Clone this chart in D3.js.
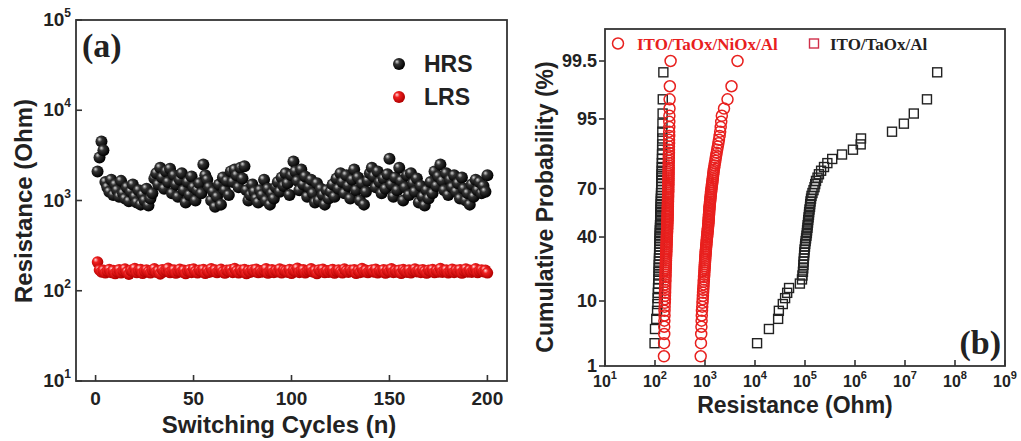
<!DOCTYPE html>
<html lang="en">
<head>
<meta charset="UTF-8">
<title>Resistance switching and cumulative probability</title>
<script src="https://d3js.org/d3.v7.min.js"></script>
<style>
  body { margin: 0; background: #fff; }
  svg text { font-family: "Liberation Sans", Arial, sans-serif; font-weight: bold; fill: #222; }
  svg text.serif { font-family: "Liberation Serif", "Times New Roman", serif; }
</style>
</head>
<body>
<svg width="1021" height="441"></svg>
<script>
// ---- panel (a): resistance vs switching cycle (values in Ohm) ----
const cycles = d3.range(1, 201);
const hrsA = [
  2100,3000,4500,3600,1600,1400,1250,1700,1150,1500,
  1300,1100,1650,1200,1050,1400,980,1250,1500,1100,
  950,1300,900,1150,1000,1350,880,1050,1200,1750,
  2000,1500,2300,1800,1350,2100,1600,2250,1200,1900,
  1500,1100,1700,2000,1300,950,1600,1150,1850,1400,
  1000,1300,1550,1200,2500,1900,1700,1400,1000,1250,
  850,1100,1500,900,1800,1300,1650,1150,2100,1600,
  2200,1900,1400,2300,1750,2400,1300,1000,1150,1500,
  1250,1050,950,1300,1150,1700,1000,1350,900,1200,
  1050,1400,1600,1250,1800,1450,2000,1550,1150,1900,
  2700,2100,1650,1300,2200,1500,1850,1100,1400,1700,
  1200,950,1550,1000,1350,1150,900,1300,1050,1250,
  1500,1100,1750,1350,2000,1600,1200,1900,1450,1050,
  1700,2200,1300,1800,1000,1550,900,1250,1650,2000,
  2300,1850,1400,2100,1600,1200,1750,1350,1950,2900,
  1500,1100,1800,1300,2300,1650,1000,1400,1900,1150,
  2000,1550,1250,1750,950,1450,1100,880,1300,1050,
  1600,1200,2100,1450,1850,2500,1650,1300,2000,1150,
  1700,1400,1900,1250,1550,1050,1800,1350,1000,1200,
  900,1500,1100,1700,1300,1600,1200,1450,1250,1900
];
const lrsA = [
  208,170,162,168,158,165,172,160,167,155,
  163,171,158,166,174,161,153,168,164,176,
  159,167,172,156,165,170,162,158,169,175,
  161,166,154,171,163,168,177,159,164,170,
  157,165,173,162,168,155,166,171,160,174,
  163,158,169,165,172,156,167,161,175,164,
  170,159,166,173,162,157,168,164,171,160,
  176,165,158,169,163,172,155,167,161,170,
  164,173,159,166,162,168,175,157,165,171,
  160,167,163,174,158,169,165,161,172,156,
  168,164,177,160,166,171,158,163,169,175,
  162,167,155,170,164,173,159,166,161,168,
  172,157,165,170,163,158,174,166,161,169,
  164,171,156,167,160,176,163,168,159,165,
  170,162,173,158,166,164,171,157,168,163,
  175,160,167,162,169,156,172,165,161,170,
  158,166,174,163,168,160,171,164,157,169,
  165,172,159,167,162,176,161,166,170,158,
  164,173,160,168,163,171,157,166,174,162,
  169,161,167,175,159,165,170,163,168,158
];
const xTicksA = [0, 50, 100, 150, 200];
const yExpA = [1, 2, 3, 4, 5];

// ---- panel (b): sorted resistances for cumulative plots (Ohm) ----
const niOxLRS = [
  148,151,152,153,153,154,155,155,156,157,
  158,158,159,159,160,160,161,161,162,162,
  163,163,164,164,165,165,166,166,167,167,
  168,168,169,169,170,170,171,171,172,172,
  173,173,174,174,175,175,176,176,177,177,
  178,178,178,179,179,179,180,180,180,181,
  181,181,182,182,182,183,183,183,184,184,
  184,185,185,185,186,186,186,187,187,187,
  188,188,188,189,189,189,190,190,190,191,
  191,192,192,193,193,194,195,196,198,205
];
const niOxHRS = [
  790,820,830,840,848,855,862,870,880,890,
  900,908,915,922,930,937,944,950,957,964,
  970,976,982,988,994,1000,1006,1012,1018,1023,
  1030,1037,1044,1051,1058,1065,1072,1080,1088,1096,
  1104,1112,1120,1128,1136,1144,1152,1160,1168,1175,
  1180,1186,1192,1198,1204,1210,1216,1222,1228,1235,
  1245,1255,1265,1275,1285,1295,1305,1316,1328,1340,
  1355,1370,1385,1400,1415,1430,1445,1462,1480,1500,
  1525,1550,1580,1610,1640,1670,1710,1750,1800,1850,
  1900,1960,2010,2060,2110,2170,2400,2820,3390,4470
];
const taOxLRS = [
  100,98,100,106,110,112,113,114,115,116,
  117,118,118,119,119,120,120,121,121,122,
  122,123,123,124,124,125,125,126,126,127,
  127,128,128,129,129,130,130,131,131,132,
  132,133,133,134,134,135,135,136,137,137,
  138,138,139,139,140,140,141,142,143,147
];
const taOxHRS = [
  1.0e4,1.1e4,1.9e4,2.9e4,3.0e4,3.6e4,4.0e4,4.4e4,4.8e4,7.9e4,
  8.7e4,8.9e4,9.1e4,9.2e4,9.3e4,9.4e4,9.5e4,9.6e4,9.7e4,9.8e4,
  1.0e5,1.01e5,1.03e5,1.05e5,1.07e5,1.09e5,1.10e5,1.12e5,1.13e5,1.15e5,
  1.16e5,1.18e5,1.20e5,1.21e5,1.23e5,1.26e5,1.27e5,1.29e5,1.32e5,1.35e5,
  1.41e5,1.48e5,1.55e5,1.60e5,1.66e5,1.78e5,1.90e5,2.1e5,2.4e5,2.8e5,
  3.5e5,5.5e5,9.1e5,1.3e6,1.32e6,5.5e6,9.5e6,1.5e7,2.75e7,4.4e7
];
const yTicksB = [1, 10, 40, 70, 95, 99.5];
const xExpB = [1, 2, 3, 4, 5, 6, 7, 8, 9];
const legendB = ["ITO/TaOx/NiOx/Al", "ITO/TaOx/Al"];

// inverse normal CDF (Acklam), used for the probability axis
function probit(p) {
  const a = [-39.69683028665376, 220.9460984245205, -275.9285104469687, 138.3577518672690, -30.66479806614716, 2.506628277459239];
  const b = [-54.47609879822406, 161.5858368580409, -155.6989798598866, 66.80131188771972, -13.28068155288572];
  const c = [-0.007784894002430293, -0.3223964580411365, -2.400758277161838, -2.549732539343734, 4.374664141464968, 2.938163982698783];
  const d = [0.007784695709041462, 0.3224671290700398, 2.445134137142996, 3.754408661907416];
  const pl = 0.02425;
  let q, r;
  if (p < pl) {
    q = Math.sqrt(-2 * Math.log(p));
    return (((((c[0]*q+c[1])*q+c[2])*q+c[3])*q+c[4])*q+c[5]) / ((((d[0]*q+d[1])*q+d[2])*q+d[3])*q+1);
  }
  if (p <= 1 - pl) {
    q = p - 0.5; r = q * q;
    return (((((a[0]*r+a[1])*r+a[2])*r+a[3])*r+a[4])*r+a[5])*q / (((((b[0]*r+b[1])*r+b[2])*r+b[3])*r+b[4])*r+1);
  }
  q = Math.sqrt(-2 * Math.log(1 - p));
  return -(((((c[0]*q+c[1])*q+c[2])*q+c[3])*q+c[4])*q+c[5]) / ((((d[0]*q+d[1])*q+d[2])*q+d[3])*q+1);
}

const svg = d3.select("svg");
const frameColor = "#333";
const red = "#e8201e";

// sphere gradients
const defs = svg.append("defs");
function sphere(id, hi, mid, dark) {
  const g = defs.append("radialGradient").attr("id", id)
    .attr("cx", "40%").attr("cy", "40%").attr("r", "60%").attr("fx", "32%").attr("fy", "30%");
  g.append("stop").attr("offset", "0%").attr("stop-color", hi);
  g.append("stop").attr("offset", "35%").attr("stop-color", mid);
  g.append("stop").attr("offset", "100%").attr("stop-color", dark);
}
sphere("ballBlack", "#d8d8d8", "#333", "#000");
sphere("ballRed", "#ffd8d8", "#f02020", "#b00000");

function sup(sel, base, exp, dy, size) {
  sel.text(base);
  sel.append("tspan").attr("dy", dy).attr("font-size", size).text(exp);
}

// ================= panel (a) =================
const A = { left: 76, right: 507, top: 20, bottom: 381 };
const xA = d3.scaleLinear().domain([-10, 210]).range([A.left, A.right]);
const yA = d3.scaleLog().domain([10, 1e5]).range([A.bottom, A.top]);

const gA = svg.append("g");
gA.append("rect").attr("x", A.left).attr("y", A.top)
  .attr("width", A.right - A.left).attr("height", A.bottom - A.top)
  .attr("fill", "none").attr("stroke", frameColor).attr("stroke-width", 1.8);

gA.selectAll(".xt").data(xTicksA).enter().append("line")
  .attr("x1", d => xA(d)).attr("x2", d => xA(d))
  .attr("y1", A.bottom).attr("y2", A.bottom - 6)
  .attr("stroke", frameColor).attr("stroke-width", 1.6);
gA.selectAll(".xl").data(xTicksA).enter().append("text")
  .attr("x", d => xA(d)).attr("y", A.bottom + 24)
  .attr("text-anchor", "middle").attr("font-size", 19).text(d => d);

gA.selectAll(".yt").data(yExpA).enter().append("line")
  .attr("x1", A.left).attr("x2", A.left + 6)
  .attr("y1", d => yA(Math.pow(10, d))).attr("y2", d => yA(Math.pow(10, d)))
  .attr("stroke", frameColor).attr("stroke-width", 1.6);
gA.selectAll(".yl").data(yExpA).enter().append("text")
  .attr("x", A.left - 5).attr("y", d => yA(Math.pow(10, d)) + 6)
  .attr("text-anchor", "end").attr("font-size", 19)
  .each(function(d) { sup(d3.select(this), "10", d, -9, 12); });

gA.append("text").attr("x", 279).attr("y", 433)
  .attr("text-anchor", "middle").attr("font-size", 24).text("Switching Cycles (n)");
gA.append("text").attr("transform", "translate(32,201) rotate(-90)")
  .attr("text-anchor", "middle").attr("font-size", 24).text("Resistance (Ohm)");
gA.append("text").attr("class", "serif").attr("x", 82).attr("y", 57)
  .attr("font-size", 34).attr("fill", "#222").text("(a)");

gA.selectAll(".lrs").data(cycles).enter().append("circle")
  .attr("cx", d => xA(d)).attr("cy", (d, i) => yA(lrsA[i]))
  .attr("r", 5.8).attr("fill", "url(#ballRed)");
gA.selectAll(".hrs").data(cycles).enter().append("circle")
  .attr("cx", d => xA(d)).attr("cy", (d, i) => yA(hrsA[i]))
  .attr("r", 6).attr("fill", "url(#ballBlack)");

// legend (a)
[["HRS", "url(#ballBlack)", 64], ["LRS", "url(#ballRed)", 97]].forEach(([lab, fill, y]) => {
  gA.append("circle").attr("cx", 399).attr("cy", y).attr("r", 6).attr("fill", fill);
  gA.append("text").attr("x", 424).attr("y", y + 8).attr("font-size", 23).text(lab);
});

// ================= panel (b) =================
const B = { left: 605, right: 1005, top: 29, bottom: 366 };
const xB = d3.scaleLog().domain([10, 1e9]).range([B.left, B.right]);
const zB = d3.scaleLinear().domain([probit(0.01), probit(0.999)]).range([B.bottom, B.top]);
const yB = p => zB(probit(p / 100));

const gB = svg.append("g");
defs.append("clipPath").attr("id", "clipB").append("rect")
  .attr("x", B.left).attr("y", B.top).attr("width", B.right - B.left).attr("height", B.bottom - B.top);

const plotB = gB.append("g").attr("clip-path", "url(#clipB)");
function cdf(values) { return values.map((v, i) => ({ r: v, p: (i + 0.5) / values.length * 100 })); }

[taOxLRS, taOxHRS].forEach(arr => {
  plotB.append("g").selectAll("rect").data(cdf(arr)).enter().append("rect")
    .attr("x", d => xB(d.r) - 4.5).attr("y", d => yB(d.p) - 4.5)
    .attr("width", 9).attr("height", 9)
    .attr("fill", "none").attr("stroke", "#222").attr("stroke-width", 1.4);
});
[niOxLRS, niOxHRS].forEach(arr => {
  plotB.append("g").selectAll("circle").data(cdf(arr)).enter().append("circle")
    .attr("cx", d => xB(d.r)).attr("cy", d => yB(d.p)).attr("r", 5.5)
    .attr("fill", "none").attr("stroke", red).attr("stroke-width", 1.5);
});

gB.append("rect").attr("x", B.left).attr("y", B.top)
  .attr("width", B.right - B.left).attr("height", B.bottom - B.top)
  .attr("fill", "none").attr("stroke", frameColor).attr("stroke-width", 1.8);

gB.selectAll(".xt").data(xExpB).enter().append("line")
  .attr("x1", d => xB(Math.pow(10, d))).attr("x2", d => xB(Math.pow(10, d)))
  .attr("y1", B.bottom).attr("y2", B.bottom - 6)
  .attr("stroke", frameColor).attr("stroke-width", 1.6);
gB.selectAll(".xl").data(xExpB).enter().append("text")
  .attr("x", d => xB(Math.pow(10, d))).attr("y", B.bottom + 21)
  .attr("text-anchor", "middle").attr("font-size", 16)
  .each(function(d) { sup(d3.select(this), "10", d, -8, 11); });

gB.selectAll(".yt").data(yTicksB).enter().append("line")
  .attr("x1", B.left).attr("x2", B.left - 6)
  .attr("y1", d => yB(d)).attr("y2", d => yB(d))
  .attr("stroke", frameColor).attr("stroke-width", 1.6);
gB.selectAll(".yl").data(yTicksB).enter().append("text")
  .attr("x", B.left - 8).attr("y", d => yB(d) + 6)
  .attr("text-anchor", "end").attr("font-size", 18).text(d => d);

gB.append("text").attr("x", 795).attr("y", 413)
  .attr("text-anchor", "middle").attr("font-size", 23).text("Resistance (Ohm)");
gB.append("text").attr("transform", "translate(553,207) rotate(-90)")
  .attr("text-anchor", "middle").attr("font-size", 23).text("Cumulative Probability (%)");
gB.append("text").attr("class", "serif").attr("x", 1001).attr("y", 354)
  .attr("text-anchor", "end").attr("font-size", 34).text("(b)");

// legend (b)
gB.append("circle").attr("cx", 618).attr("cy", 43.5).attr("r", 5.5)
  .attr("fill", "none").attr("stroke", red).attr("stroke-width", 1.5);
gB.append("text").attr("class", "serif").attr("x", 637).attr("y", 49.5)
  .attr("font-size", 17).style("fill", red).text(legendB[0]);
gB.append("rect").attr("x", 809.5).attr("y", 39).attr("width", 9).attr("height", 9)
  .attr("fill", "none").attr("stroke", "#d0304a").attr("stroke-width", 1.4);
gB.append("text").attr("class", "serif").attr("x", 830).attr("y", 49.5)
  .attr("font-size", 17).text(legendB[1]);
</script>
</body>
</html>
